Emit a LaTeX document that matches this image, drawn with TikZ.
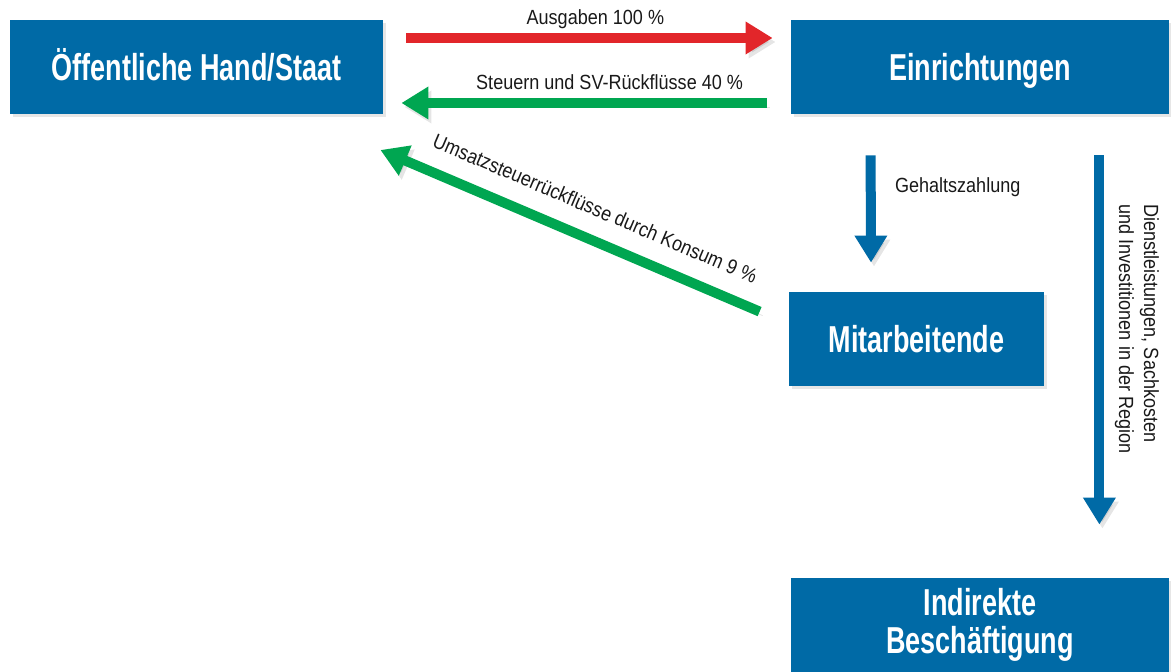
\documentclass[tikz,border=0pt]{standalone}
\usepackage{fontspec}
\usepackage{xcolor}
\usetikzlibrary{arrows.meta}
\usetikzlibrary{shadows}
\usetikzlibrary{calc}
\newfontfamily\boxfont{Liberation Sans}[FakeStretch=0.72]
\newfontfamily\labelfont{Liberation Sans}[FakeStretch=0.88]
\definecolor{boxblue}{RGB}{0,106,166}
\definecolor{flowred}{RGB}{226,38,42}
\definecolor{flowgreen}{RGB}{0,166,81}

\begin{document}
\begin{tikzpicture}[x=0.5pt, y=-0.5pt,
    box/.style={fill=boxblue, text=white, inner sep=0pt, align=center,
      font=\boxfont\bfseries\fontsize{18.75}{19}\selectfont,
      drop shadow={opacity=0.2, shadow xshift=1.5pt, shadow yshift=-1.5pt}},
    oneline/.style={text height=13.4pt, text depth=0pt},
    flow/.style={line width=5pt, -{Triangle[length=13.5pt, width=15.5pt]},
      preaction={draw=black, opacity=0.1, transform canvas={shift={(1.5pt,-2pt)}}}},
    lbl/.style={inner sep=0pt, text=black!90, font=\labelfont\fontsize{10.25}{12.5}\selectfont}]
    \useasboundingbox (0,0) rectangle (1171,672);
    % boxes
    \node[box, oneline, minimum width=186.5pt, minimum height=47pt] (staat) at (196.5,67) {Öffentliche Hand/Staat};
    \node[box, oneline, minimum width=189pt, minimum height=47pt] (einr) at (980,67) {Einrichtungen};
    \node[box, oneline, minimum width=127.5pt, minimum height=47pt] (mitarb) at (916.5,339) {Mitarbeitende};
    \node[box, minimum width=189pt, minimum height=47pt] (indir) at (980,625) {Indirekte\\Beschäftigung};
    % flows between state and institutions
    \draw[flow, flowred] ($(staat.east)+(23,-29)$) -- ($(einr.west)+(-18,-29)$)
      node[lbl, pos=0.516, yshift=9.5pt] {Ausgaben 100 \%};
    \draw[flow, flowgreen] ($(einr.west)+(-24,36)$) -- ($(staat.east)+(18,36)$)
      node[lbl, pos=0.43, yshift=10.5pt] {Steuern und SV-Rückflüsse 40 \%};
    \draw[flow, flowgreen] ($(mitarb.north west)+(-29,20)$) -- ($(staat.east)+(-3,83)$)
      node[lbl, pos=0.465, sloped, above=9pt] {Umsatzsteuerrückflüsse durch Konsum 9 \%};
    % flows out of the institutions
    \draw[flow, boxblue] ($(einr.south west)+(80,41)$) -- ($(mitarb.north)+(-45.5,-29)$);
    \node[lbl, anchor=west] (gehalt) at ($(einr.south west)+(104,73)$) {Gehaltszahlung};
    \draw[flow, boxblue] ($(einr.south east)+(-70,41)$) -- ($(indir.north east)+(-70,-53)$);
    \node[lbl, rotate=-90, align=left] (dienst) at (1137,329) {Dienstleistungen, Sachkosten\\und Investitionen in der Region};
\end{tikzpicture}
\end{document}
